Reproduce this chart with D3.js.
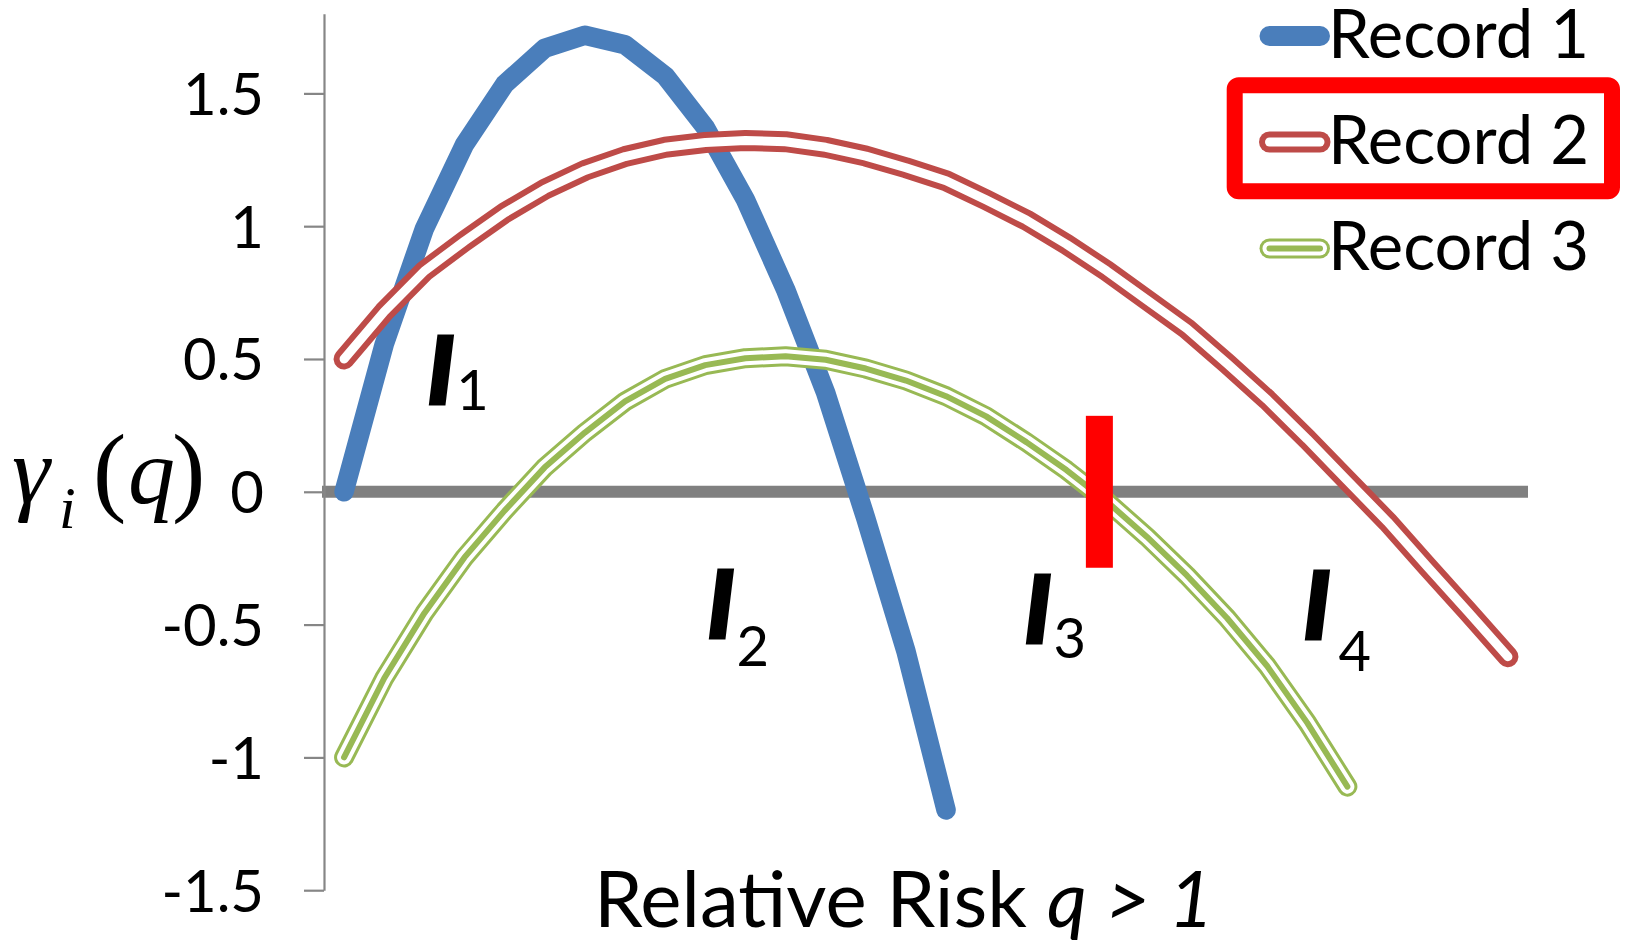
<!DOCTYPE html>
<html>
<head>
<meta charset="utf-8">
<script src="https://cdn.jsdelivr.net/npm/d3@7"></script>
<style>
  html, body { margin: 0; padding: 0; background: #ffffff; }
  svg { display: block; }
</style>
</head>
<body>
<svg id="chart" width="1627" height="944"></svg>
<script>
// Relative-risk grid steps (q > 1), one per category slot along the x axis
const qSteps = d3.range(30);

// gamma_i(q) for each record, one value per grid step
const record1 = [0, 0.555, 0.99, 1.307, 1.534, 1.67, 1.719, 1.683, 1.566, 1.372,
                 1.10, 0.762, 0.373, -0.10, -0.60, -1.198];
const record2 = [0.5, 0.678, 0.831, 0.944, 1.05, 1.139, 1.21, 1.262, 1.297, 1.315,
                 1.323, 1.318, 1.297, 1.264, 1.22, 1.171, 1.099, 1.023, 0.932, 0.832,
                 0.723, 0.614, 0.483, 0.347, 0.198, 0.042, -0.113, -0.283, -0.451, -0.621];
const record3 = [-1.0, -0.702, -0.457, -0.247, -0.071, 0.092, 0.223, 0.34, 0.425, 0.477,
                 0.503, 0.51, 0.497, 0.464, 0.419, 0.36, 0.284, 0.187, 0.082, -0.036,
                 -0.169, -0.315, -0.475, -0.656, -0.87, -1.11];

const seriesNames = ["Record 1", "Record 2", "Record 3"];
const yTicks = [-1.5, -1, -0.5, 0, 0.5, 1, 1.5];
const yTickLabels = ["-1.5", "-1", "-0.5", "0", "0.5", "1", "1.5"];

// Interval labels I1..I4 (subscript), placed in data space
const intervalNames = ["1", "2", "3", "4"];
const intervalSteps = [2.07, 9.05, 16.95, 23.9];
const intervalValues = [0.33, -0.55, -0.57, -0.555];

// Highlighted zero crossing of Record 3
const crossStep = 18.82;
const crossHalfSpan = 0.286;

const colors = { r1: "#4A7EBB", r2: "#BE4B48", r3: "#98B954", axis: "#868686", zero: "#808080", mark: "#FF0000" };
const sansFont = "Lato, 'Open Sans', sans-serif";
const serifFont = "'Liberation Serif', 'DejaVu Serif', serif";

const svg = d3.select("#chart");

const x = d3.scaleLinear().domain([-0.5, qSteps.length - 0.5]).range([324, 1528]);
const y = d3.scaleLinear().domain([-1.5, 1.8]).range([890.2, 13.7]);

// Horizontal category axis crossing at zero (thick grey bar)
const xAxis = svg.append("g")
  .attr("transform", `translate(0,${y(0)})`)
  .call(d3.axisBottom(x).tickValues([]).tickSizeOuter(0));
xAxis.select(".domain").attr("stroke", colors.zero).attr("stroke-width", 12)
  .attr("d", `M${x.range()[0] - 2},0H${x.range()[1]}`);

// Vertical value axis
const yAxis = svg.append("g")
  .attr("transform", `translate(${x.range()[0]},0)`)
  .call(d3.axisLeft(y).tickValues(yTicks).tickSize(20).tickSizeOuter(0).tickPadding(40)
    .tickFormat(d => yTickLabels[yTicks.indexOf(d)]));
yAxis.select(".domain").attr("stroke", colors.axis).attr("stroke-width", 2.2);
yAxis.selectAll(".tick line").attr("stroke", colors.axis).attr("stroke-width", 2.2);
yAxis.selectAll(".tick text")
  .attr("fill", "#000").attr("font-family", sansFont).attr("font-size", 58)
  .attr("dy", "0.36em");

const line = d3.line().x((d, i) => x(qSteps[i])).y(d => y(d));

// Record 1: plain thick line
svg.append("path").datum(record1).attr("d", line)
  .attr("fill", "none").attr("stroke", colors.r1).attr("stroke-width", 19.5)
  .attr("stroke-linecap", "round").attr("stroke-linejoin", "round");

// Record 2: double (compound) line
const r2 = svg.append("g");
[[21, colors.r2], [9, "#ffffff"]].forEach(([w, c]) => {
  r2.append("path").datum(record2).attr("d", line)
    .attr("fill", "none").attr("stroke", c).attr("stroke-width", w)
    .attr("stroke-linecap", "round").attr("stroke-linejoin", "round");
});

// Record 3: thin-thick-thin (triple) line
const r3 = svg.append("g");
[[20, colors.r3], [14, "#ffffff"], [6, colors.r3]].forEach(([w, c]) => {
  r3.append("path").datum(record3).attr("d", line)
    .attr("fill", "none").attr("stroke", c).attr("stroke-width", w)
    .attr("stroke-linecap", "round").attr("stroke-linejoin", "round");
});

// Red bar marking where Record 3 crosses zero
svg.append("rect")
  .attr("x", x(crossStep) - 13.5).attr("width", 27)
  .attr("y", y(crossHalfSpan)).attr("height", y(-crossHalfSpan) - y(crossHalfSpan))
  .attr("fill", colors.mark);

// Interval labels
const subOffsets = [6, 28, 15, 32];
intervalNames.forEach((n, i) => {
  const t = svg.append("text")
    .attr("x", x(intervalSteps[i])).attr("y", y(intervalValues[i]))
    .attr("font-family", sansFont).attr("fill", "#000");
  t.append("tspan").text("I")
    .attr("font-size", 94).attr("font-weight", 900).attr("font-style", "italic")
    .attr("stroke", "#000").attr("stroke-width", 3);
  t.append("tspan").text(n)
    .attr("font-size", 56).attr("font-weight", 400)
    .attr("dx", i === 3 ? 8 : 2).attr("dy", subOffsets[i]);
});

// Y axis title: gamma_i(q)
const yt = svg.append("text").attr("y", 503).attr("font-family", serifFont).attr("fill", "#000");
yt.append("tspan").attr("x", 12).attr("font-size", 96).attr("font-style", "italic").text("γ");
yt.append("tspan").attr("x", 59).attr("dy", 25).attr("font-size", 60).attr("font-style", "italic").text("i");
yt.append("tspan").attr("x", 93).attr("dy", -25).attr("font-size", 100).text("(");
yt.append("tspan").attr("x", 128).attr("font-size", 94).attr("font-style", "italic").text("q");
yt.append("tspan").attr("x", 172).attr("font-size", 100).text(")");

// X axis title
const xt = svg.append("text").attr("x", 594).attr("y", 927)
  .attr("font-family", sansFont).attr("font-size", 78).attr("fill", "#000");
xt.append("tspan").text("Relative Risk ");
xt.append("tspan").attr("font-style", "italic").text("q > 1");

// Legend
const legendY = [36, 142, 248.5];
const legend = svg.append("g");
seriesNames.forEach((name, i) => {
  const g = legend.append("g").attr("transform", `translate(0,${legendY[i]})`);
  const layers = i === 0 ? [[20, colors.r1]]
    : i === 1 ? [[21, colors.r2], [9, "#ffffff"]]
    : [[20, colors.r3], [14, "#ffffff"], [6, colors.r3]];
  layers.forEach(([w, c]) => {
    g.append("line").attr("x1", 1269.5).attr("x2", 1320).attr("y1", 0).attr("y2", 0)
      .attr("stroke", c).attr("stroke-width", w).attr("stroke-linecap", "round");
  });
  g.append("text").attr("x", 1328).attr("y", 21.5)
    .attr("font-family", sansFont).attr("font-size", 67).attr("fill", "#000").text(name);
});
// Highlight box around the second legend entry
legend.append("rect")
  .attr("x", 1234.7).attr("y", 85.3).attr("width", 1612 - 1234.7).attr("height", 191.3 - 85.3)
  .attr("rx", 4).attr("fill", "none").attr("stroke", colors.mark).attr("stroke-width", 16);
</script>
</body>
</html>
